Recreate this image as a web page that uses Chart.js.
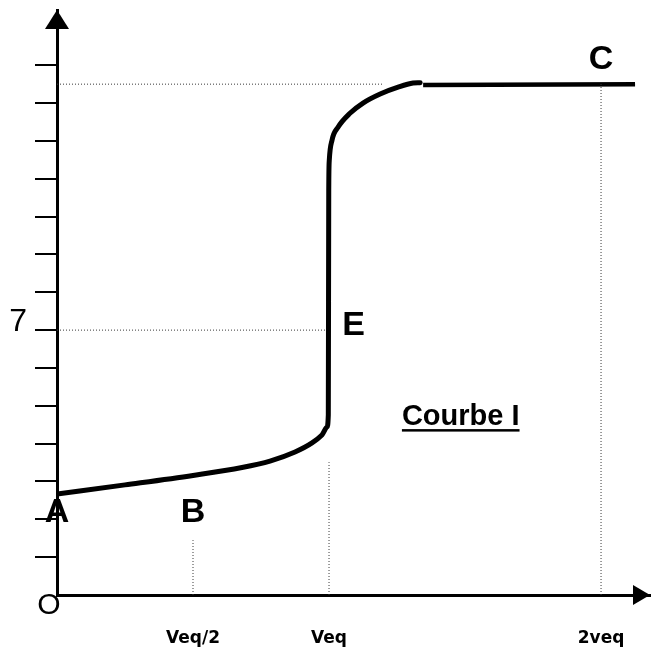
<!DOCTYPE html>
<html>
<head>
<meta charset="utf-8">
<script src="https://cdn.jsdelivr.net/npm/chart.js@4/dist/chart.umd.min.js"></script>
<style>
  html, body { margin:0; padding:0; background:#fff; }
  #wrap { width:652px; height:647px; position:relative; }
</style>
</head>
<body>
<div id="wrap"><canvas id="courbe"></canvas></div>
<script>
(function(){
  // ---------- data (volume in units of Veq, pH) ----------
  const curveVol = [0, 0.25, 0.5, 0.68, 0.783, 0.875, 0.9375, 0.974, 0.9926, 0.9974, 0.999, 1.001, 1.011, 1.033, 1.077, 1.125, 1.188, 1.254, 1.309, 1.335];
  const curvePH  = [2.67, 2.91, 3.16, 3.37, 3.54, 3.78, 4.02, 4.23, 4.44, 4.76, 10.70, 11.49, 12.02, 12.36, 12.73, 13.0, 13.24, 13.42, 13.53, 13.54];

  const plateauVol = [1.346, 2.125];
  const plateauPH  = [13.48, 13.50];

  // dotted guides
  const guideHalfVol = [0.5, 0.5];   const guideHalfPH = [0, 1.45];
  const guideVeqVol  = [1, 1];       const guideVeqPH  = [0, 3.51];
  const guide2VeqVol = [2, 2];       const guide2VeqPH = [0, 13.5];
  const guide7Vol    = [0, 0.99];    const guide7PH    = [7, 7];
  const guideTopVol  = [0, 1.2];     const guideTopPH  = [13.5, 13.5];

  const xTickVals   = [0.5, 1, 2];
  const xTickLabels = ["Veq/2", "Veq", "2veq"];
  const yTickVals   = [1,2,3,4,5,6,7,8,9,10,11,12,13,14];
  const yTickLabels = { 7: "7" };

  const FONT = "'Liberation Sans', Arial, sans-serif";

  function pts(xs, ys){ return xs.map((x,i)=>({ x, y: ys[i] })); }

  function guide(xs, ys){
    return {
      data: pts(xs, ys), borderColor:"#3a3a3a", borderWidth:1, borderDash:[1,2],
      pointRadius:0, tension:0, fill:false
    };
  }

  // ---------- arrows + letters ----------
  const decor = {
    id:"decor",
    afterDraw(chart){
      const ctx = chart.ctx;
      const xs = chart.scales.x, ys = chart.scales.y;
      const a = chart.chartArea;
      const X = v => xs.getPixelForValue(v);
      const Y = v => ys.getPixelForValue(v);

      ctx.save();
      ctx.fillStyle = "#000";
      // y arrow
      ctx.beginPath();
      ctx.moveTo(a.left, a.top);
      ctx.lineTo(a.left - 12, a.top + 19);
      ctx.lineTo(a.left + 12, a.top + 19);
      ctx.closePath(); ctx.fill();
      // x arrow
      ctx.beginPath();
      ctx.moveTo(a.right, a.bottom);
      ctx.lineTo(a.right - 17, a.bottom - 10);
      ctx.lineTo(a.right - 17, a.bottom + 10);
      ctx.closePath(); ctx.fill();

      ctx.textBaseline = "alphabetic";
      ctx.textAlign = "center";
      ctx.font = "30px " + FONT;
      ctx.fillText("O", X(0) - 8, Y(0) + 19);

      ctx.font = "bold 34px " + FONT;
      ctx.fillText("A", X(0), Y(1.93));
      ctx.fillText("B", X(0.5), Y(1.93));
      ctx.fillText("E", X(1.09), Y(6.87));
      ctx.fillText("C", X(2.0), Y(13.9));

      ctx.textAlign = "left";
      ctx.font = "bold 29px " + FONT;
      const lx = X(1.268), ly = Y(4.49);
      ctx.fillText("Courbe I", lx, ly);
      const w = ctx.measureText("Courbe I").width;
      ctx.fillRect(lx, ly + 4, w, 2.5);
      ctx.restore();
    }
  };

  new Chart(document.getElementById("courbe"), {
    type:"line",
    data:{
      datasets:[
        guide(guideHalfVol, guideHalfPH),
        guide(guideVeqVol, guideVeqPH),
        guide(guide2VeqVol, guide2VeqPH),
        guide(guide7Vol, guide7PH),
        guide(guideTopVol, guideTopPH),
        { data: pts(curveVol, curvePH), borderColor:"#000", borderWidth:5,
          pointRadius:0, cubicInterpolationMode:"monotone", fill:false,
          borderCapStyle:"round", borderJoinStyle:"round" },
        { data: pts(plateauVol, plateauPH), borderColor:"#000", borderWidth:4.5,
          pointRadius:0, tension:0, fill:false }
      ]
    },
    options:{
      responsive:true,
      maintainAspectRatio:false,
      animation:false,
      events:[],
      layout:{ padding:{ top:10, right:2, left:0, bottom:0 } },
      plugins:{ legend:{ display:false }, tooltip:{ enabled:false } },
      scales:{
        x:{
          type:"linear", min:0, max:2.18,
          afterFit(s){ s.height = 52; s.paddingLeft = 0; s.paddingRight = 0; },
          afterBuildTicks(s){ s.ticks = xTickVals.map(v=>({ value:v })); },
          grid:{ display:false },
          border:{ display:true, color:"#000", width:3 },
          ticks:{
            autoSkip:false, maxRotation:0, padding:25, color:"#000",
            font:{ family:"'DejaVu Sans', sans-serif", size:17, weight:"bold" },
            callback:(v)=>{ const i = xTickVals.indexOf(v); return i >= 0 ? xTickLabels[i] : ""; }
          }
        },
        y:{
          type:"linear", min:0, max:15.46,
          afterFit(s){ s.width = 57; s.paddingTop = 0; s.paddingBottom = 0; },
          afterBuildTicks(s){ s.ticks = yTickVals.map(v=>({ value:v })); },
          grid:{ drawOnChartArea:false, drawTicks:true, tickLength:22, color:"#000", lineWidth:2 },
          border:{ display:true, color:"#000", width:3 },
          ticks:{
            autoSkip:false, padding:8, color:"#000", labelOffset:-8,
            font:{ family:FONT, size:32 },
            callback:(v)=> yTickLabels[v] || ""
          }
        }
      }
    },
    plugins:[decor]
  });
})();
</script>
</body>
</html>
